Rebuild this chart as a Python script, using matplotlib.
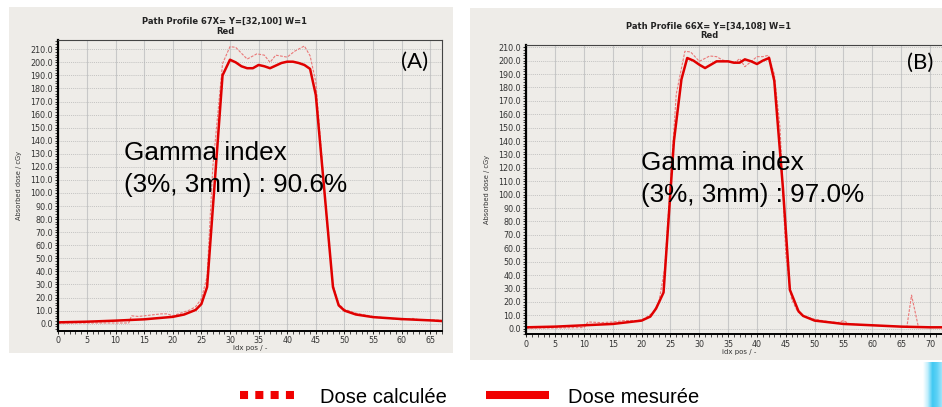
"""
Profils de dose : calculée vs mesurée (A) et (B)
"""

import matplotlib
matplotlib.use("Agg")
import matplotlib.pyplot as plt
import numpy as np
from matplotlib.lines import Line2D
from matplotlib.patches import Rectangle
from matplotlib.ticker import MultipleLocator, FormatStrFormatter

W, H = 942, 407

# --- (A) profile 67 ---
xa_mes = [0, 5, 10, 15, 20, 22, 24, 25, 26, 28.7, 30, 31, 32, 33, 34, 35, 36, 37, 38,
          39, 40, 41, 42, 43, 44, 45, 48, 49, 50, 52, 55, 60, 65, 67]
ya_mes = [1.0, 1.5, 2.3, 3.3, 5.2, 7.0, 10.5, 15.0, 28.0, 190, 202, 200, 197, 195.5,
          195.5, 198, 197, 195.5, 197.5, 199.5, 200.5, 200.5, 199.5, 198, 195, 175,
          28, 14, 10, 7, 5, 3.5, 2.5, 2]
xa_cal = [0, 5, 10, 12.3, 12.8, 14, 16, 18, 19, 20, 21, 22, 23, 24, 25, 26, 27, 28.7,
          30, 31, 33, 34.7, 36, 37, 38, 40, 41.3, 43, 44, 45, 46, 47, 48, 49, 50, 52,
          55, 58, 60, 62, 63, 65, 67]
ya_cal = [0.5, 0.5, 0.5, 0.5, 6.0, 5.5, 6.5, 7.5, 7.5, 6.0, 7.5, 9, 10.5, 13, 19, 36,
          120, 199, 212, 211.5, 202.5, 206.5, 205.5, 200, 205.5, 204, 208.5, 212.5,
          205, 185, 130, 75, 30, 15, 11, 8, 5.5, 4, 3, 4, 3, 3, 2.5]

# --- (B) profile 66 ---
xb_mes = [0, 5, 10, 15, 20, 21.5, 22.5, 23.8, 25.6, 26.9, 27.9, 29, 30, 31, 32, 33, 34,
          35, 36, 37, 37.9, 39, 40, 41, 42.1, 43, 44.5, 45.7, 47.2, 48, 50, 55, 60, 65,
          70, 74]
yb_mes = [1.0, 1.5, 2.5, 3.5, 6.0, 9, 15, 27, 140, 186, 202, 200, 197, 194.5, 197,
          199.5, 199.5, 199.5, 198.5, 198.5, 201, 199.5, 197.5, 200, 202, 185, 105, 29,
          13, 9.5, 6, 3.5, 2.5, 1.5, 1, 1]
xb_cal = [0, 5, 10, 10.7, 13, 15, 17, 19, 20, 21, 22, 23, 24, 25, 26, 27.5, 28.5, 30,
          31.8, 33, 34, 35, 36, 37, 37.9, 40, 41, 42, 43, 44, 45, 46, 47, 48, 50, 52,
          54, 55, 56, 60, 65, 66, 66.8, 68, 70, 74]
yb_cal = [0.5, 0.5, 0.8, 5.0, 4.5, 5.0, 6.0, 6.0, 6.5, 9, 12, 20, 45, 110, 175, 207,
          206.5, 199.5, 203.5, 203, 200.5, 199.5, 198, 201.5, 195.5, 203, 203, 204, 190,
          150, 55, 22, 13, 9.5, 7, 5.5, 4.5, 6, 3.5, 2.5, 1.5, 1.5, 25, 1, 1, 1]

BG = "#eeece8"
RED = "#e00000"
RED_LIGHT = "#ea7878"


def px(x0, y0, x1, y1):
    # pixel box (top-left origin) -> figure fraction rect
    return [x0 / W, 1 - y1 / H, (x1 - x0) / W, (y1 - y0) / H]


def setup(ax, xmax, ylim):
    ax.set_facecolor(BG)
    ax.set_xlim(0, xmax)
    ax.set_ylim(*ylim)
    ax.xaxis.set_major_locator(MultipleLocator(5))
    ax.xaxis.set_minor_locator(MultipleLocator(1))
    ax.yaxis.set_major_locator(MultipleLocator(10))
    ax.yaxis.set_minor_locator(MultipleLocator(2))
    ax.yaxis.set_major_formatter(FormatStrFormatter("%.1f"))
    ax.tick_params(axis="both", which="major", labelsize=5.8, labelcolor="#333333",
                   length=2.5, width=0.6, pad=1.5)
    ax.tick_params(axis="both", which="minor", length=2, width=0.5)
    ax.grid(True, axis="x", color="#c8c8c8", lw=0.8, ls="-")
    ax.grid(True, axis="y", color="#b4b4b4", lw=0.5, ls=(0, (1.5, 1.5)))
    ax.set_axisbelow(True)
    ax.spines["left"].set_linewidth(1.6)
    ax.spines["bottom"].set_linewidth(1.4)
    for s in ("top", "right"):
        ax.spines[s].set_linewidth(0.8)
        ax.spines[s].set_color("#444444")
    ax.set_xlabel("idx pos / -", fontsize=5, labelpad=0, color="#333333")
    ax.set_ylabel("Absorbed dose / cGy", fontsize=4.8, labelpad=6, color="#333333")


fig = plt.figure(figsize=(W / 100, H / 100), dpi=100)
fig.patch.set_facecolor("white")

# grey panel boxes
for box in (px(9, 7, 453, 353), px(470, 8, 942, 360)):
    fig.add_artist(Rectangle(box[:2], box[2], box[3], transform=fig.transFigure,
                             facecolor=BG, edgecolor="none", zorder=-1))

ax1 = fig.add_axes(px(58.3, 40, 441.7, 330.7))
setup(ax1, 67, (-5.4, 217.1))
ax1.plot(xa_cal, ya_cal, color=RED_LIGHT, lw=0.8, ls=(0, (2.5, 1.2)))
ax1.plot(xa_mes, ya_mes, color=RED, lw=1.8)

ax2 = fig.add_axes(px(526.3, 45, 952, 334))
setup(ax2, (952 - 526.3) / 5.767, (-4.0, 211.7))
ax2.spines["right"].set_visible(False)
ax2.plot(xb_cal, yb_cal, color=RED_LIGHT, lw=0.8, ls=(0, (2.5, 1.2)))
ax2.plot(xb_mes, yb_mes, color=RED, lw=1.8)

# titles
title_kw = dict(fontsize=6, fontweight="bold", ha="center", va="center", color="#222222")
fig.text(225 / W, 1 - 21 / H, "Path Profile 67X= Y=[32,100] W=1", **title_kw)
fig.text(225 / W, 1 - 31 / H, "Red", **title_kw)
fig.text(709 / W, 1 - 26 / H, "Path Profile 66X= Y=[34,108] W=1", **title_kw)
fig.text(709 / W, 1 - 36 / H, "Red", **title_kw)

# annotations
big = dict(fontsize=18.8, family="Liberation Sans", color="black", va="baseline")
fig.text(124 / W, 1 - 160 / H, "Gamma index", **big)
fig.text(124 / W, 1 - 192 / H, "(3%, 3mm) : 90.6%", **big)
fig.text(641 / W, 1 - 170 / H, "Gamma index", **big)
fig.text(641 / W, 1 - 202 / H, "(3%, 3mm) : 97.0%", **big)

lab = dict(fontsize=16, family="Lato", color="black", ha="center", va="center")
fig.text(415 / W, 1 - 62 / H, "(A)", **lab)
fig.text(920 / W, 1 - 63 / H, "(B)", **lab)

# legend
ly = 1 - 395 / H
fig.add_artist(Line2D([240 / W, 294 / W], [ly, ly], transform=fig.transFigure,
                      color="#f00000", lw=5.8, ls=(0, (1, 0.9)), dash_capstyle="butt"))
fig.add_artist(Line2D([486 / W, 549 / W], [ly, ly], transform=fig.transFigure,
                      color="#f00000", lw=5.8, solid_capstyle="butt"))
leg = dict(fontsize=14.5, family="Liberation Sans", color="black", va="baseline")
fig.text(320 / W, 1 - 403 / H, "Dose calculée", **leg)
fig.text(568 / W, 1 - 403 / H, "Dose mesurée", **leg)

# blue strip at bottom right
cax = fig.add_axes(px(923, 362, 942, 407))
grad = np.linspace(0, 1, 64)[None, :]
cmap = matplotlib.colors.LinearSegmentedColormap.from_list(
    "strip", ["#ffffff", "#bfeefc", "#40c8f2", "#5fd2f6", "#9fe4fa"])
cax.imshow(grad, aspect="auto", cmap=cmap, extent=(0, 1, 0, 1))
cax.axis("off")

fig.savefig("out.png", dpi=100, facecolor="white")
